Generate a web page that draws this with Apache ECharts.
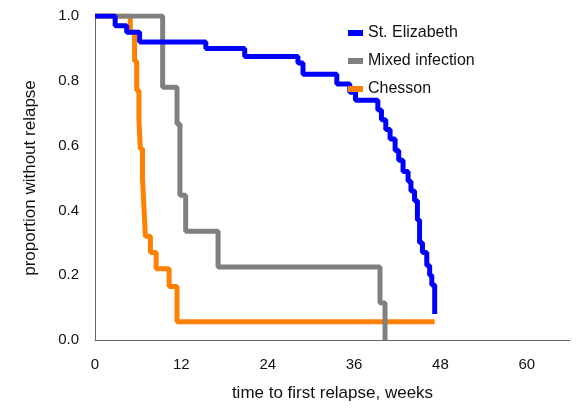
<!DOCTYPE html><html><head><meta charset="utf-8"><script src="https://cdn.jsdelivr.net/npm/echarts@6/dist/echarts.min.js"></script></head><body style="margin:0"><div id="c" style="width:578px;height:412px"></div><script>
const stElizabeth=[[0,1],[2.8,0.97],[4.4,0.95],[6.2,0.92],[15.4,0.90],[20.8,0.875],[28.2,0.855],[28.9,0.82],[33.6,0.79],[35.4,0.765],[36.2,0.74],[39.3,0.71],[39.8,0.68],[40.4,0.65],[41,0.62],[41.7,0.585],[42.2,0.555],[42.8,0.52],[43.5,0.49],[43.9,0.46],[44.4,0.43],[44.8,0.37],[45.1,0.30],[45.5,0.27],[46.1,0.23],[46.5,0.20],[46.8,0.17],[47.2,0.08]];
const mixed=[[0,1],[9.4,0.78],[11.4,0.667],[11.8,0.447],[12.6,0.336],[17.1,0.225],[39.6,0.114],[40.3,0]];
const chesson=[[0,1],[4.9,0.95],[5.5,0.86],[5.8,0.77],[6.1,0.68],[6.3,0.59],[6.6,0.5],[6.8,0.41],[7.0,0.32],[7.7,0.27],[8.5,0.22],[10.3,0.165],[11.4,0.056],[47.2,0.056]];
const seriesNames=['St. Elizabeth','Mixed infection','Chesson'];
const colors=['#0000ff','#808080','#ff8000'];
const F='Helvetica, Liberation Sans, Arial, sans-serif';
const mk=(n,d,c,z)=>({name:n,type:'line',step:'end',data:d,showSymbol:false,z:z,lineStyle:{width:5,color:c},itemStyle:{color:c}});
echarts.init(document.getElementById('c')).setOption({
animation:false,
grid:{left:95,right:8,top:16,bottom:72},
legend:{orient:'vertical',left:343,top:20,itemWidth:15,itemHeight:6,itemGap:12,icon:'rect',textStyle:{fontFamily:F,fontSize:16,color:'#111'},data:seriesNames},
xAxis:{type:'value',min:0,max:66,interval:12,offset:9,axisLine:{lineStyle:{color:'#666'}},axisTick:{show:false},splitLine:{show:false},axisLabel:{showMaxLabel:false,fontFamily:F,fontSize:15,color:'#111',margin:8},name:'time to first relapse, weeks',nameLocation:'middle',nameGap:36,nameTextStyle:{fontFamily:F,fontSize:17,color:'#111'}},
yAxis:{type:'value',min:0,max:1,interval:0.2,offset:10,axisLine:{show:true,lineStyle:{color:'#666'}},axisTick:{show:false},splitLine:{show:false},axisLabel:{formatter:v=>v.toFixed(1),fontFamily:F,fontSize:15,color:'#111',margin:6},name:'proportion without relapse',nameLocation:'middle',nameGap:46,nameTextStyle:{fontFamily:F,fontSize:17,color:'#111'}},
series:[mk(seriesNames[0],stElizabeth,colors[0],3),mk(seriesNames[1],mixed,colors[1],2),mk(seriesNames[2],chesson,colors[2],1)]
});
</script></body></html>
